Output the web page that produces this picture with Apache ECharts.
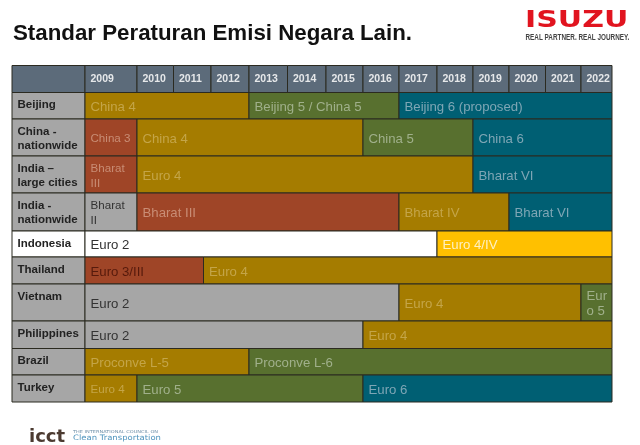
<!DOCTYPE html>
<html><head><meta charset="utf-8">
<style>html,body{margin:0;padding:0;background:#fff}#c{width:640px;height:445px}</style>
<script src="https://cdn.jsdelivr.net/npm/echarts@6/dist/echarts.min.js"></script>
</head><body><div id="c"></div>
<script>
// ---- data ----
const years = [2009,2010,2011,2012,2013,2014,2015,2016,2017,2018,2019,2020,2021,2022];
const rowNames = ['Beijing','China -\nnationwide','India –\nlarge cities','India -\nnationwide','Indonesia','Thailand','Vietnam','Philippines','Brazil','Turkey'];
// [stage, first year, year the next stage begins]
const beijing = [['China 4',2009,2013],['Beijing 5 / China 5',2013,2017],['Beijing 6 (proposed)',2017,2023]];
const chinaNationwide = [['China 3',2009,2010],['China 4',2010,2016],['China 5',2016,2019],['China 6',2019,2023]];
const indiaCities = [['Bharat\nIII',2009,2010],['Euro 4',2010,2019],['Bharat VI',2019,2023]];
const indiaNationwide = [['Bharat\nII',2009,2010],['Bharat III',2010,2017],['Bharat IV',2017,2020],['Bharat VI',2020,2023]];
const indonesia = [['Euro 2',2009,2018],['Euro 4/IV',2018,2023]];
const thailand = [['Euro 3/III',2009,2011.8],['Euro 4',2011.8,2023]];
const vietnam = [['Euro 2',2009,2017],['Euro 4',2017,2022],['Eur\no 5',2022,2023]];
const philippines = [['Euro 2',2009,2016],['Euro 4',2016,2023]];
const brazil = [['Proconve L-5',2009,2013],['Proconve L-6',2013,2023]];
const turkey = [['Euro 4',2009,2010],['Euro 5',2010,2016],['Euro 6',2016,2023]];
const rowStages = [beijing,chinaNationwide,indiaCities,indiaNationwide,indonesia,thailand,vietnam,philippines,brazil,turkey];

// ---- layout (table units) ----
const colEdges = [73,125,161.5,199,237,275.5,314,351,387,425,461,497,533.5,569,600];
const rowEdges = [27,53.5,90.5,127.5,165.5,191.5,218.5,255.5,283,309.5,336.5];
const headerH = 27, headerW = 73;
const yearX = y => { const i = Math.min(Math.floor(y-2009), years.length-1), f = y-2009-i;
  return colEdges[i] + f*(colEdges[i+1]-colEdges[i]); };

// ---- styles ----
const pal = {
  gold:['#a57c00','#c4a548'], red:['#9f4527','#c98d75'], green:['#58702f','#a0b08b'],
  teal:['#005f73','#7ea6b5'], grey:['#a6a6a6','#333333'], white:['#ffffff','#333333'],
  yellow:['#ffc000','#fff0c0']
};
function tone(s,row){
  if(/^Euro 2/.test(s)) return row===4?'white':'grey';
  if(/II$/.test(s)&&!/III/.test(s)) return 'grey';
  if(s==='Euro 4/IV') return 'yellow';
  if(/3|III/.test(s)) return 'red';
  if(/ 6|VI$|^Beijing 6/.test(s)&&s!=='Proconve L-6') return 'teal';
  if(/5|L-6/.test(s)&&s!=='Proconve L-5') return 'green';
  return 'gold';
}
const cells = [];
cells.push({x0:0,x1:headerW,y0:0,y1:headerH,fill:'#5c6b7a',text:''});
years.forEach((y,i)=>cells.push({x0:colEdges[i],x1:colEdges[i+1],y0:0,y1:headerH,fill:'#5c6b7a',text:String(y),
  color:'#e6e8ea',font:'bold 10.5px "Liberation Sans"',dx:5.5,dy:0}));
rowNames.forEach((n,r)=>{
  cells.push({x0:0,x1:headerW,y0:rowEdges[r],y1:rowEdges[r+1],fill:r===4?'#ffffff':'#a6a6a6',text:n,color:'#222222',
    font:'bold 11.5px "Liberation Sans"',dx:5.5,top:5.5,lh:14.5});
  rowStages[r].forEach(st=>{
    const t=tone(st[0],r), p=pal[t];
    let col=p[1];
    if(st[0]==='Euro 3/III') col='#561a0c';
    const small = st[1]===2009 && st[2]===2010;
    cells.push({x0:yearX(st[1]),x1:yearX(st[2]),y0:rowEdges[r],y1:rowEdges[r+1],fill:p[0],text:st[0],color:col,
      font:(small?'11.6px':'13.2px')+' "Liberation Sans"',dx:5.5,dy:1.5,lh:15});
  });
});

const chart = echarts.init(document.getElementById('c'),null,{renderer:'canvas'});
chart.setOption({
  animation:false,
  backgroundColor:'#ffffff',
  title:{text:'Standar Peraturan Emisi Negara Lain.',left:8,top:18,
    textStyle:{fontFamily:'Liberation Sans',fontWeight:'bold',fontSize:22.3,color:'#111111'}},
  grid:{left:12,top:65.5,width:600,height:336.5,containLabel:false},
  xAxis:{type:'value',min:0,max:600,show:false},
  yAxis:{type:'value',min:0,max:336.5,inverse:true,show:false},
  series:[{
    type:'custom',coordinateSystem:'cartesian2d',clip:false,
    data:cells.map(c=>[c.x0,c.y0,c.x1,c.y1]),
    encode:{x:[0,2],y:[1,3]},
    renderItem(params,api){
      const c=cells[params.dataIndex];
      const a=api.coord([c.x0,c.y0]), b=api.coord([c.x1,c.y1]);
      const kids=[{type:'rect',shape:{x:a[0],y:a[1],width:b[0]-a[0],height:b[1]-a[1]},
        style:{fill:c.fill,stroke:'#2b2a20',lineWidth:1}}];
      if(c.text){
        const top=c.top!==undefined;
        kids.push({type:'text',x:a[0]+c.dx,y:top?a[1]+c.top:(a[1]+b[1])/2+(c.dy||0),z2:5,
          style:{text:c.text,fill:c.color,font:c.font,lineHeight:c.lh||14,textAlign:'left',textVerticalAlign:top?'top':'middle'}});
      }
      return {type:'group',children:kids};
    }
  }],
  graphic:[
    {type:'text',x:525,y:9.5,scaleX:1.25,scaleY:0.95,style:{text:'ISUZU',fill:'#e1141f',font:'900 24px "DejaVu Sans"'}},
    {type:'text',x:525.5,y:32,scaleX:0.67,style:{text:'REAL PARTNER. REAL JOURNEY.',fill:'#444444',font:'bold 9.5px "Liberation Sans"'}},
    {type:'text',x:29,y:428,scaleX:1.0,style:{text:'icct',fill:'#4b3a30',font:'bold 18px "DejaVu Sans"'}},
    {type:'text',x:73,y:429.5,scaleX:1.25,style:{text:'THE INTERNATIONAL COUNCIL ON',fill:'#6d8fa8',font:'4px "DejaVu Sans"'}},
    {type:'text',x:73,y:434.5,scaleX:1.13,style:{text:'Clean Transportation',fill:'#4f94bd',font:'7.5px "DejaVu Sans"'}}
  ]
});
</script></body></html>
